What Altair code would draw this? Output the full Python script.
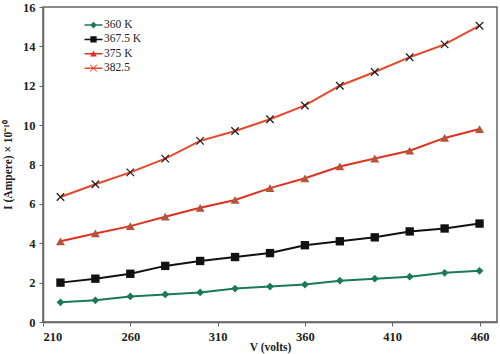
import altair as alt
import pandas as pd

V = [220, 240, 260, 280, 300, 320, 340, 360, 380, 400, 420, 440, 460]
s360 = [1.0, 1.1, 1.3, 1.4, 1.5, 1.7, 1.8, 1.9, 2.1, 2.2, 2.3, 2.5, 2.6]
s3675 = [2.0, 2.2, 2.45, 2.85, 3.1, 3.3, 3.5, 3.9, 4.1, 4.3, 4.6, 4.75, 5.0]
s375 = [4.1, 4.5, 4.87, 5.35, 5.8, 6.2, 6.8, 7.3, 7.9, 8.3, 8.7, 9.35, 9.8]
s3825 = [6.35, 7.0, 7.6, 8.3, 9.2, 9.7, 10.3, 11.0, 12.0, 12.7, 13.45, 14.1, 15.05]

names = ["360 K", "367.5 K", "375 K", "382.5"]
values = [s360, s3675, s375, s3825]
line_colors = ["#1b7a56", "#111111", "#e1301f", "#e9472b"]
marker_colors = ["#1b7a56", "#111111", "#b3553a"]
marker_shapes = ["diamond", "square", "triangle-up"]
marker_sizes = [60, 80, 75]
x_ticks = [210, 260, 310, 360, 410, 460]
y_ticks = [0, 2, 4, 6, 8, 10, 12, 14, 16]

rows = []
for n, vals in zip(names, values):
    for v, i in zip(V, vals):
        rows.append({"V": v, "I": i, "series": n})
df = pd.DataFrame(rows)

FONT = "Liberation Serif"

x_enc = alt.X("V:Q", scale=alt.Scale(domain=[210, 470], nice=False, zero=False),
              axis=alt.Axis(values=x_ticks, title="V (volts)", titleY=28,
                            titleBaseline="alphabetic"))
y_enc = alt.Y("I:Q", scale=alt.Scale(domain=[0, 16], nice=False),
              axis=alt.Axis(values=y_ticks, title="I (Ampere) × 10⁻¹⁰", titlePadding=9))

base = alt.Chart(df).encode(x=x_enc, y=y_enc)

lines = base.mark_line(strokeWidth=2).encode(
    stroke=alt.Stroke("series:N", scale=alt.Scale(domain=names, range=line_colors), legend=None),
    detail="series:N",
)

pts = base.transform_filter(alt.FieldOneOfPredicate(field="series", oneOf=names[:3])).mark_point(
    filled=True, opacity=1).encode(
    fill=alt.Fill("series:N", scale=alt.Scale(domain=names[:3], range=marker_colors), legend=None),
    shape=alt.Shape("series:N", scale=alt.Scale(domain=names[:3], range=marker_shapes), legend=None),
    size=alt.Size("series:N", scale=alt.Scale(domain=names[:3], range=marker_sizes), legend=None),
)

xs = base.transform_filter(alt.datum.series == "382.5").mark_point(
    shape="M-1,-1L1,1M-1,1L1,-1", filled=False, color="#222222", size=56, strokeWidth=1.3, opacity=1)

line_stub = "M-1.2,-0.1H1.2V0.1H-1.2Z "
legend_paths = [
    line_stub + "M0,-0.45L0.45,0L0,0.45L-0.45,0Z",
    line_stub + "M-0.42,-0.42H0.42V0.42H-0.42Z",
    line_stub + "M0,-0.45L0.45,0.35H-0.45Z",
    line_stub + "M-0.4,-0.48L0.48,0.4L0.4,0.48L-0.48,-0.4Z M0.4,-0.48L0.48,-0.4L-0.4,0.48L-0.48,0.4Z",
]

leg = dict(orient="none", legendX=43, legendY=10.5, title=None, padding=0,
           labelFont=FONT, labelFontSize=11.5, labelColor="#222222", labelOffset=3,
           symbolSize=225, rowPadding=1.4, symbolStrokeWidth=0)

legend_layer = base.transform_filter(alt.datum.V < 0).mark_point(filled=True, opacity=1).encode(
    color=alt.Color("series:N", scale=alt.Scale(domain=names, range=line_colors),
                    legend=alt.Legend(**leg)),
    shape=alt.Shape("series:N", scale=alt.Scale(domain=names, range=legend_paths),
                    legend=alt.Legend(**leg)),
)

chart = alt.layer(lines, pts, xs, legend_layer).resolve_scale(
    shape="independent", size="independent", color="independent"
).properties(
    width=454, height=315,
    padding={"left": 43, "top": 7, "right": 3, "bottom": 32},
    autosize="none",
).configure_view(
    stroke="#666666", strokeWidth=1.5
).configure_axis(
    grid=False, domainColor="#666666", domainWidth=1.5, tickColor="#666666", tickSize=4,
    labelFont=FONT, labelFontSize=12.5, labelFontWeight="bold", labelColor="#222222", labelPadding=4,
    titleFont=FONT, titleFontSize=11.5, titleFontWeight="bold", titleColor="#222222",
)

chart.save("out.html", embed_options={"renderer": "svg", "actions": False})
